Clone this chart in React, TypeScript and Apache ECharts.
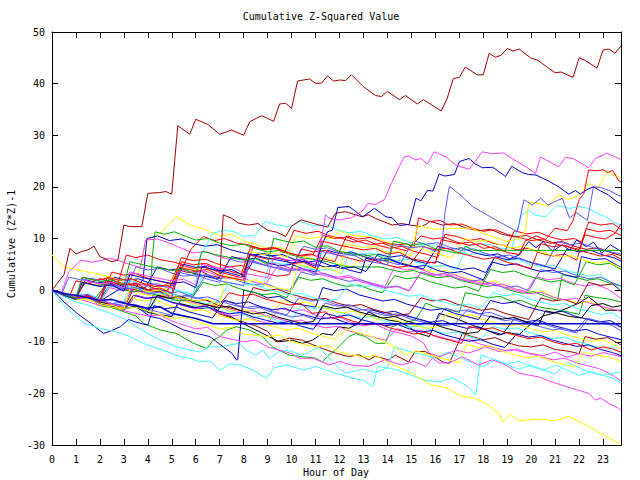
import React, { useEffect, useRef } from "react";
import * as echarts from "echarts";

type P = [number, number][];

const hourTicks = [0, 1, 2, 3, 4, 5, 6, 7, 8, 9, 10, 11, 12, 13, 14, 15, 16, 17, 18, 19, 20, 21, 22, 23];
const valueTicks = [-30, -20, -10, 0, 10, 20, 30, 40, 50];

const s1: P = [[0,0],[0.5,3],[0.75,8.1],[1,7],[1.25,7.5],[1.5,7.8],[1.75,8.5],[2,6.5],[2.5,5.5],[2.75,5.8],[3,12.6],[3.25,12.3],[3.75,12.3],[4,18.75],[4.5,18.9],[4.75,19.1],[5,18.6],[5.25,31.85],[5.75,30.2],[6,33.1],[6.5,32.1],[7,30.2],[7.5,31],[8,30],[8.25,32.6],[8.75,33.8],[9.25,32.7],[9.5,36.05],[9.75,36.2],[10,35.2],[10.25,40.5],[10.75,40.9],[11,40.06],[11.25,40.1],[11.5,41.5],[11.75,40.5],[12,40.7],[12.25,40.6],[12.5,41.7],[13,39.4],[13.5,37.7],[13.75,37.5],[14,38.5],[14.5,36.9],[14.75,37.7],[15.25,36.05],[15.5,36.9],[16.25,34.7],[16.5,37.2],[16.75,41],[17,41.2],[17.25,43.2],[17.75,41.7],[18,41.7],[18.25,45.9],[18.5,45.1],[18.75,45.5],[19,46.8],[19.25,46.3],[19.5,46.7],[20,44.9],[20.25,44.6],[21,42.1],[21.25,42.25],[21.75,41.2],[22,45],[22.25,44.5],[22.75,43],[23,46.5],[23.25,46.7],[23.5,45.9],[23.75,47.3]];
const s2: P = [[0,0],[0.5,-0.8],[1,-1.5],[1.25,2],[2,1.2],[2.5,1.5],[3,0.4],[3.25,3.5],[4,2.7],[5,1.8],[5.5,2.1],[6,1],[6.25,5],[7,4.2],[7.5,4.5],[8,3.3],[9,2.4],[9.25,6.5],[10,5.7],[10.5,6],[11,4.9],[11.25,10],[11.42,14.6],[11.58,13.9],[12,13.6],[12.5,14],[13,15.5],[13.18,16.8],[13.5,16.6],[13.87,17.5],[14.2,21],[14.5,24],[14.7,25.8],[14.9,26],[15.17,25.2],[15.4,25.5],[15.67,24.4],[15.95,26.8],[16.44,25.8],[16.86,24.2],[17.41,23.4],[17.96,26.8],[18.38,26.4],[18.86,26.6],[19.2,25.5],[19.77,23.9],[20.18,22.6],[20.39,25.8],[20.87,24.6],[21.15,23.9],[21.43,25.7],[21.75,25.5],[22.4,23.7],[22.68,25.5],[23.16,26.5],[23.65,25.5],[23.75,25.3]];
const s3: P = [[0,0],[0.5,-1],[1,-1.8],[1.25,1.5],[2,0.7],[2.5,1],[3,-0.2],[3.25,3],[4,2.2],[5,1.3],[5.5,1.6],[6,0.5],[6.25,4.5],[7,3.7],[7.5,4],[8,2.8],[8.25,7],[9,6.2],[10,5.3],[10.5,5.6],[11,4.6],[11.25,8.5],[11.5,11.3],[11.7,11.6],[11.93,16],[12.4,16.2],[12.97,14.2],[13.46,15.85],[13.94,14.2],[14.2,14],[14.5,12.5],[14.91,12.75],[15.19,17.8],[15.4,17.3],[15.67,19.3],[15.9,19.2],[16.16,22.5],[16.4,22.1],[16.8,22.4],[17,24.9],[17.41,25.5],[17.65,24.5],[17.96,23.7],[18.4,23.8],[18.93,22],[19.19,24],[19.63,22.75],[19.9,22.4],[20.2,22.3],[20.74,21.1],[21.15,20],[21.57,18.6],[21.85,19.3],[22.05,18.6],[22.33,19.5],[22.6,20],[22.9,19.2],[23.23,18.4],[23.65,16.9],[23.75,16.8]];
const s4: P = [[0,0],[0.5,-0.9],[1,-1.7],[1.5,-1.4],[2,-2.6],[2.25,1],[3,0.2],[3.5,0.5],[4,-0.7],[4.5,-0.4],[5,-1.5],[5.25,3.5],[6,2.7],[6.5,3],[7,1.8],[8,0.9],[8.25,5.5],[9,4.7],[10,3.8],[10.5,4.1],[11,3],[11.25,7.5],[12,6.7],[12.5,7],[13,5.8],[14,4.9],[14.25,9],[15,8.2],[15.5,8.5],[16,7.5],[16.27,8.2],[16.4,15],[16.58,20],[16.65,19.9],[17.1,18.2],[17.55,16.2],[18,15],[18.52,13.6],[19,12.4],[19.42,11.3],[19.7,17.5],[20.05,16.5],[20.4,17.8],[20.7,16.5],[21.3,17.8],[21.6,14],[21.9,15],[22.35,13.5],[22.6,20],[22.9,19.9],[23.3,19.2],[23.65,18.3],[23.75,18.2]];
const s5: P = [[0,0],[0.5,-1],[1,-1.9],[1.5,-1.6],[2,-2.8],[2.5,-3.3],[3,-3.7],[3.25,0.5],[4,-0.3],[4.5,0],[5,-1.2],[6,-2.1],[6.5,-1.8],[7,-2.9],[7.25,2.5],[8,1.7],[8.5,2],[9,0.8],[10,-0.1],[10.25,5],[11,4.2],[11.5,4.5],[12,3.3],[12.25,9],[13,8.2],[13.5,8.5],[14,7.3],[14.5,7.6],[15,6.6],[15.25,12.5],[16,11.8],[17,12],[17.5,12],[18,11],[18.5,10.2],[19,9.4],[19.5,10],[19.77,11.6],[19.9,17.1],[20.3,16.8],[20.7,16.3],[21.15,18.4],[21.57,17.5],[22,18.5],[22.4,20.7],[22.75,19.5],[23.16,22.9],[23.4,22.3],[23.65,22],[23.75,21.8]];
const s6: P = [[0,0],[0.5,-0.7],[1,-1.5],[1.5,-1.1],[2,-2.4],[2.25,1.8],[3,1],[3.5,1.3],[4,0.1],[4.5,0.4],[5,-0.6],[5.25,4.5],[6,3.7],[6.5,4],[7,2.8],[8,1.9],[8.25,6.8],[9,6],[9.5,6.3],[10,5.1],[10.5,5.4],[11,4.3],[11.25,9.5],[12,8.7],[13,7.8],[13.5,8.1],[14,7],[14.5,7.3],[15,6.1],[16,5.2],[16.25,9.8],[17,9],[17.5,9.3],[18,8.1],[18.5,8.4],[19,7.3],[19.5,6.9],[19.75,9.5],[20.2,10.5],[20.6,9.8],[21,12],[21.5,11.5],[21.75,13.5],[22,17.5],[22.2,18.7],[22.4,23.3],[22.7,23.1],[23,23.3],[23.2,22.8],[23.4,23.2],[23.65,21.2],[23.75,21]];
const s7: P = [[0,0],[0.5,-0.8],[1,-1.5],[1.5,-1.9],[2,-2.5],[3,-3.5],[3.5,-3.3],[4,-4],[5,-5.5],[5.5,-5.2],[6,-6],[7,-7.5],[7.5,-7.2],[8,-8.5],[9,-9],[9.5,-8.7],[10,-10],[11,-11],[11.5,-10.7],[12,-12],[13,-13],[13.5,-12.6],[14,-14],[15,-16],[15.75,-18.2],[16.5,-19],[17.13,-20.6],[17.6,-20.9],[18.1,-21.9],[18.66,-23.9],[18.8,-25.5],[19.14,-24.1],[19.5,-25.3],[20.3,-25],[21,-25.3],[21.57,-24.4],[22,-25.5],[22.68,-27.1],[23.2,-28.5],[23.65,-29.7],[23.75,-29.9]];
const s8: P = [[0,0],[0.5,-0.9],[1,-1.5],[2,-3],[2.5,-2.8],[3,-4],[4,-5],[4.5,-4.8],[5,-6],[6,-7.5],[6.5,-7.2],[7,-9],[8,-10],[8.5,-9.7],[9,-11],[10,-12.3],[10.34,-13.2],[10.9,-13.2],[11.58,-14.5],[12,-13.8],[12.5,-14.5],[13.2,-14.8],[13.9,-13.5],[14.6,-14.5],[15.1,-13.8],[15.6,-14.8],[15.88,-13.2],[16.16,-14.1],[16.6,-14.1],[17.13,-12.9],[17.8,-14.5],[18.38,-13.5],[18.93,-14.5],[19.49,-16.1],[20.3,-16.8],[21,-18],[21.7,-19],[22.4,-20],[22.68,-21.3],[22.9,-20.9],[23.23,-21.9],[23.65,-22.9],[23.75,-23.3]];
const s9: P = [[0,0],[0.5,-3],[1.32,-6.4],[2,-7.4],[2.7,-8.1],[3.27,-9],[3.82,-10.3],[4.23,-11],[4.79,-11.9],[5.35,-12.9],[5.76,-13.2],[6.18,-13.9],[6.59,-13.7],[7,-15.5],[7.43,-14.3],[7.84,-14.5],[8.4,-15.5],[8.95,-17.1],[9.3,-15],[9.8,-14.5],[10.5,-15.5],[11,-14.8],[11.8,-16],[12.5,-17],[13,-17.5],[13.39,-18.7],[13.6,-14.8],[14.3,-15.3],[15,-16.5],[15.6,-17.5],[16.2,-17.8],[16.7,-17],[17.3,-18.5],[17.69,-20.3],[17.9,-12.6],[18.5,-13.5],[19,-14.3],[19.5,-13.8],[20,-14.8],[20.5,-15.5],[21,-14.5],[21.5,-15.5],[22,-16.5],[22.5,-15.8],[23,-16.5],[23.75,-15.8]];
const s11: P = [[0,0],[0.5,-0.7],[1,-1],[2,-2],[2.5,-1.8],[3,-2.5],[4,-3.5],[4.5,-3.2],[5,-4.5],[6,-5.5],[6.72,-6.5],[23.75,-6.5]];
const s12: P = [[0,0],[0.5,-0.8],[1,-1.6],[1.25,2.5],[2,1.7],[2.5,2],[3,0.8],[3.25,5.5],[4,4.7],[5,3.8],[5.5,4.1],[6,3],[6.25,7.5],[7,6.7],[8,5.8],[8.5,6.1],[9,5],[9.25,10],[10,9.2],[10.5,9.5],[11,8.3],[11.5,8.6],[12,7.5],[13,6.6],[13.5,6.9],[14,5.7],[14.25,9.5],[15,8.7],[15.5,9],[16,8],[17,7.1],[17.25,8.5],[17.6,7.7],[23.75,7.7]];
const a1: P = [[0,0],[0.5,-0.6],[0.75,-1],[1,1.8],[1.5,1.3],[2,2.2],[2.5,1.6],[2.75,1.2],[3.1,6.8],[3.5,6.3],[4,6.8],[4.5,5.9],[5,5.5],[5.5,4.9],[5.8,7.9],[6.3,10.4],[6.8,9.6],[7.2,10],[7.7,9.1],[8.2,8.8],[8.7,7.9],[9.2,8.3],[9.7,7.2],[10.1,11.6],[10.6,11],[11.1,11.4],[11.6,10.5],[12.1,10],[12.6,9.3],[13.1,9.7],[13.6,8.7],[14.1,8.1],[14.6,8.5],[15.1,7.5],[15.6,7],[16.1,6.3],[16.4,10.8],[16.9,10.4],[17.4,9.6],[17.9,10],[18.4,9.1],[18.9,8.6],[19.4,7.8],[19.9,8.1],[20.4,7.2],[20.9,6.6],[21.4,7],[21.9,5.8],[22.3,11.9],[22.8,11.3],[23.3,11.6],[23.75,10.6]];
const a2: P = [[0,0],[0.4,-0.5],[0.9,-1.2],[1.3,-0.8],[1.8,-1.6],[2.3,1.4],[2.8,0.9],[3.3,1.2],[3.8,0.3],[4.1,0],[4.2,7],[4.3,11.3],[4.7,10.8],[5.1,11.3],[5.6,10.4],[6,9.7],[6.5,10],[7,9.1],[7.5,8.6],[8,8.9],[8.5,8],[9,7.4],[9.5,7.7],[10,6.8],[10.5,6.2],[11,5.9],[11.5,5.5],[12,4.8],[12.4,4.5],[13.7,4.5],[14.1,4],[14.6,3.5],[15.1,3.8],[15.6,3],[16.1,2.4],[16.6,2.7],[17.1,1.8],[17.6,1.3],[18.1,0.7],[18.6,1],[19.1,0],[19.6,-0.6],[20.1,-0.3],[20.6,-1.2],[21.1,-2],[21.3,3],[21.8,2.6],[22.3,1.9],[22.8,2.2],[23.3,1.3],[23.75,0.8]];
const a3: P = [[0,0],[0.5,-0.7],[1,-1.5],[1.5,-1.1],[2,-2.2],[2.4,-1],[2.9,0.4],[3.4,0.1],[3.8,2],[3.96,10],[4.4,10.5],[4.9,9.6],[5.4,9.9],[5.9,9],[6.4,8.5],[6.9,8.8],[7.4,7.9],[7.9,7.3],[8.4,6.8],[8.9,7.1],[9.4,6.2],[9.9,5.7],[10.4,6],[10.9,5.1],[11.4,4.5],[11.9,4.8],[12.4,3.9],[12.9,3.3],[13.1,6.2],[13.6,5.6],[14.1,5.9],[14.6,5],[15.1,4.5],[15.6,4.8],[16.1,3.8],[16.6,3.3],[17.1,3.6],[17.6,2.7],[18,2],[18.4,5.4],[18.9,4.8],[19.4,5.1],[19.9,4.2],[20.4,3.6],[20.9,3.9],[21.4,3],[21.9,2.4],[22.1,6.5],[22.6,5.9],[23.1,6.1],[23.75,4.4]];
const a4: P = [[0,0],[0.4,-0.4],[0.7,3.5],[1.2,5.8],[1.7,5.4],[2.1,5.8],[2.4,6.2],[2.8,5.7],[3.3,4.9],[3.7,4.4],[3.9,9.7],[4.4,9.9],[4.9,9.1],[5.4,8.1],[5.9,7.2],[6.4,7.5],[6.9,6.6],[7.4,6],[7.9,6.3],[8.4,5.5],[8.9,4.9],[9.4,5.2],[9.9,4.3],[10.4,3.7],[10.9,4],[11.4,3.1],[11.9,2.5],[12.4,2.8],[12.9,1.9],[13.4,1.3],[13.9,0.7],[14.3,4.5],[14.8,3.9],[15.3,4.2],[15.8,3.3],[16.3,2.7],[16.8,3],[17.3,2.1],[17.8,1.5],[18.3,0.9],[18.8,1.2],[19.3,0.3],[19.8,-0.3],[20.2,2.6],[20.7,2],[21.2,2.3],[21.7,1.4],[22.2,0.8],[22.7,1.1],[23.2,0.2],[23.75,-1.6]];
const a5: P = [[0,0],[0.5,-0.8],[1,-1.4],[1.5,-1],[2,-2],[2.5,-2.6],[3,-2.2],[3.4,1.5],[3.9,1],[4.4,1.3],[4.9,0.3],[5.4,-0.2],[5.9,-0.8],[6.2,6.5],[6.7,11],[7.2,11.6],[7.6,11.3],[8,10.4],[8.5,10.7],[8.9,13.3],[9.4,12.6],[9.9,12.3],[10.4,13.3],[10.9,12.4],[11.4,12.7],[11.9,11.7],[12.4,11.1],[12.9,11.4],[13.4,10.5],[13.9,9.9],[14.4,10.2],[14.9,9.3],[15.4,8.7],[15.9,9],[16.4,8.1],[16.9,7.5],[17.4,6.9],[17.9,7.2],[18.4,6.3],[18.9,5.7],[19.4,6],[19.9,5.1],[20.4,4.5],[20.9,4.8],[21.4,3.9],[21.9,3.3],[22.4,2.7],[22.9,3],[23.4,1.2],[23.75,0.2]];
const a6: P = [[0,0],[0.5,-0.5],[1,-1.1],[1.5,-0.7],[2,-1.6],[2.4,2],[2.9,1.4],[3.4,1.7],[3.9,0.8],[4.4,0.2],[4.9,0.5],[5.4,-0.4],[5.9,-1],[6.3,3],[6.8,2.4],[7.3,2.7],[7.8,1.8],[8.3,1.2],[8.8,0.6],[9.1,5.5],[9.6,5],[10.1,5.3],[10.6,4.4],[11.1,3.8],[11.6,4.1],[12.1,3.2],[12.4,7.5],[12.9,6.9],[13.4,7.2],[13.9,6.3],[14.4,5.7],[14.9,6],[15.4,5.1],[15.9,4.5],[16.4,4.8],[16.9,3.9],[17.3,8.5],[17.8,9],[18.3,8.8],[18.8,8],[19.2,8.3],[19.4,11.3],[19.6,14.5],[19.9,15.5],[20.2,14.5],[20.6,14.2],[21.1,16.5],[21.6,15.8],[22,16.2],[22.4,15.8],[22.8,14.8],[23.1,14.2],[23.5,13],[23.75,12.6]];
const a7: P = [[0,0],[0.5,-0.6],[1,-1.3],[1.5,-0.9],[1.9,-1.8],[2.3,1.5],[2.8,0.9],[3.3,1.2],[3.8,0.3],[4.3,-0.3],[4.8,0],[5.2,4],[5.7,3.4],[6.2,3.7],[6.6,2.8],[7,2.4],[7.1,11],[7.15,14.6],[7.5,13.9],[7.77,13],[8.2,12.6],[8.6,12.9],[9,11.6],[9.4,11.2],[9.75,10.4],[10,12.4],[10.4,13.6],[11,12.8],[11.5,12.2],[11.83,14.9],[12.25,15.2],[12.94,14.2],[13.2,14.6],[13.5,13.9],[14.2,12.6],[14.6,12.9],[14.95,12.6],[15.44,12.3],[15.8,13.3],[16.3,12.6],[16.8,12.9],[17.3,12],[17.8,11.5],[18.3,11.8],[18.8,10.8],[19.3,10.3],[19.8,10.6],[20.3,9.7],[20.8,9.1],[21.3,9.4],[21.8,8.5],[22.3,7.9],[22.8,8.2],[23.3,7.3],[23.75,6.7]];
const a8: P = [[0,0],[0.5,-0.9],[1,-1.6],[1.3,2.5],[1.8,1.9],[2.3,2.3],[2.8,1.5],[3.3,0.9],[3.8,1.2],[4.3,0.3],[4.8,-0.3],[5.4,4.8],[5.9,4.2],[6.4,4.5],[6.9,3.6],[7.4,3],[7.9,2.4],[8.4,8.4],[8.9,7.8],[9.4,8.1],[9.9,7.2],[10.4,6.6],[10.9,6.9],[11.3,10.6],[11.8,10],[12.3,10.3],[12.8,9.4],[13.3,8.8],[13.8,9.1],[14.3,8.2],[14.8,7.6],[15.4,10.5],[15.9,9.9],[16.4,10.2],[16.9,9.3],[17.4,8.7],[17.9,9],[18.4,8.1],[18.9,7.5],[19.3,11.5],[19.8,10.9],[20.3,11.2],[20.8,10.3],[21.3,9.7],[21.8,10],[22.1,9.3],[22.4,13.2],[22.9,12.6],[23.4,12.9],[23.75,11.8]];
const a9: P = [[0,0],[0.5,-1.1],[1,-1.8],[1.5,-1.4],[2,-2.4],[2.5,-3],[3,-2.6],[3.4,0.5],[3.9,0],[4.4,0.3],[4.9,-0.6],[5.4,-1.2],[5.9,-0.9],[6.4,2.8],[6.9,2.2],[7.4,2.5],[7.9,1.6],[8.4,1],[8.9,1.3],[9.4,0.4],[9.9,-0.2],[10.4,3.5],[10.9,2.9],[11.4,3.2],[11.9,2.3],[12.4,1.7],[12.9,2],[13.4,1.1],[13.9,0.5],[14.4,0.8],[14.9,-0.1],[15.4,3.5],[15.9,2.9],[16.4,3.2],[16.9,2.3],[17.4,1.7],[17.9,2],[18.4,1.1],[18.9,0.5],[19.4,0.8],[19.9,-0.1],[20.4,4],[20.9,3.4],[21.4,3.7],[21.9,2.8],[22.4,2.2],[22.9,2.5],[23.4,1.4],[23.75,0.8]];
const a10: P = [[0,0],[0.5,-1],[1,-1.7],[1.4,2],[1.9,1.4],[2.4,1.7],[2.9,0.8],[3.4,0.2],[3.9,0.5],[4.4,4.5],[4.9,3.9],[5.4,4.2],[5.9,3.3],[6.4,2.7],[6.9,2.1],[7.5,6.5],[8,5.9],[8.5,6.2],[9,5.3],[9.5,4.7],[10,5],[10.5,4.1],[11,3.5],[11.5,7.7],[12,7.1],[12.5,7.4],[13,6.5],[13.5,5.9],[14,6.2],[14.5,5.3],[15,4.7],[15.5,4.1],[16.1,8.5],[16.6,7.9],[17.1,8.2],[17.6,7.3],[18.1,6.7],[18.6,7],[19.1,6.1],[19.5,6.8],[19.9,9.4],[20.2,8.2],[20.5,9.4],[20.9,7.5],[21.3,8.8],[21.6,7.7],[21.9,9.7],[22.3,8.4],[22.6,9.3],[22.95,7.1],[23.3,8.8],[23.75,7.5]];
const a11: P = [[0,0],[0.5,-0.7],[1,-1.4],[1.5,-1],[2,-2],[2.6,2.5],[3.1,1.9],[3.6,2.2],[4.1,1.3],[4.6,0.7],[5.1,1],[5.5,5],[6,4.4],[6.5,4.7],[7,3.8],[7.5,3.2],[8,2.6],[8.6,7.2],[9.1,6.6],[9.6,6.9],[10.1,6],[10.6,5.4],[11.1,5.7],[11.6,4.8],[12.1,4.2],[12.6,4.5],[13.1,3.6],[13.6,7],[14.1,6.4],[14.6,6.7],[15.1,5.8],[15.6,5.2],[16.1,5.5],[16.6,4.6],[17.1,4],[17.6,4.3],[18.1,3.4],[18.5,6.5],[19,5.9],[19.5,6.2],[20,5.3],[20.5,4.7],[21,4.1],[21.5,8],[22,7.4],[22.5,7.7],[23,6.8],[23.5,6.2],[23.75,5.6]];
const a12: P = [[0,0],[0.5,-0.8],[1,-1.6],[1.5,-1.2],[2,-2.5],[2.5,-3.1],[3,-4],[3.5,-1],[4,-1.6],[4.5,-1.3],[5,-2.4],[5.5,-3],[6,-3.6],[6.5,-3.3],[7,-4.6],[7.5,-5.4],[8,-6.2],[8.5,-6.9],[9,-8],[9.34,-10],[9.9,-9.3],[10.45,-9.7],[10.9,-10.6],[11.28,-11.3],[11.83,-12.2],[12.39,-12.9],[12.8,-12.5],[13.22,-13.5],[13.5,-12.8],[14.05,-13.5],[14.33,-12.6],[14.88,-13.9],[15.16,-11.9],[15.58,-11.9],[16,-13],[16.3,-13.9],[16.58,-14.2],[17.13,-8.4],[17.55,-9],[18,-9.6],[18.5,-9.2],[19,-10.2],[19.5,-10.8],[20,-11],[20.5,-10.6],[21,-11.5],[21.5,-11.8],[22,-12.3],[22.25,-9],[22.7,-9.5],[23.2,-9.2],[23.75,-10.6]];
const a13: P = [[0,0],[0.5,-0.8],[1,-1.5],[1.5,-1.2],[2,-2.6],[2.5,-3.1],[3,-3.5],[3.5,-3.3],[4,-4.3],[4.5,-4.8],[5,-5.1],[5.25,-2.5],[5.7,-3],[6.2,-3.6],[6.7,-3.3],[7.1,-4.5],[7.5,-5.2],[7.95,-6.4],[8.5,-7.7],[9.06,-9],[9.48,-10],[10.03,-9.7],[10.45,-10.3],[10.87,-9.7],[11.28,-8.4],[11.7,-8.7],[11.97,-7.1],[12.39,-7.4],[12.8,-6.4],[13.22,-4.2],[13.64,-5.2],[14.05,-5.8],[14.47,-6.1],[14.88,-7.1],[15.3,-8.4],[15.75,-9],[16.16,-4.5],[16.86,-5.5],[17.55,-6.8],[18.1,-7.7],[18.66,-8.7],[19,-8.2],[19.5,-8.6],[20,-6.5],[20.5,-5],[21,-4.4],[21.5,-3.5],[22,-2.5],[22.4,-1.3],[22.7,-2.4],[23.1,-3.9],[23.75,-3.9]];
const a14: P = [[0,0],[0.5,-1],[1,-1.8],[1.5,-1.5],[2,-3],[2.5,-3.4],[3,-4.2],[3.5,-5],[3.82,-6.4],[4.5,-7.7],[5.2,-8.4],[5.9,-10.3],[6.45,-11.3],[6.73,-9.7],[7,-9],[7.3,-7.7],[7.7,-7.1],[8.23,-7.7],[8.78,-9],[9.2,-11],[9.9,-12.6],[10.45,-12.9],[11,-13.2],[11.28,-13.9],[11.56,-12.6],[11.83,-11.6],[12.39,-9],[12.67,-8.4],[13.08,-9],[13.5,-10.3],[13.91,-10.3],[14.19,-7.1],[14.61,-6.4],[15.16,-5.8],[15.44,-3.8],[15.6,-2.5],[16,-3.3],[16.5,-3.8],[17,-4.3],[17.25,-0.5],[17.7,-0.9],[18.2,-1.5],[18.7,-1.2],[19.2,-2.2],[19.6,-2],[20.1,-3],[20.6,-3.5],[21.1,-3.8],[21.6,-4.3],[22,-4.7],[22.25,-1],[22.7,-1.4],[23.2,-1.7],[23.75,-2.3]];
const a15: P = [[0,0],[0.5,-1.2],[1,-2.3],[1.5,-2.9],[2,-3.8],[2.5,-4.6],[3,-5.5],[3.5,-7],[4.1,-8.7],[4.6,-9.8],[5.2,-11],[5.76,-11.6],[6.18,-12],[6.59,-11],[7,-11],[7.43,-10.6],[7.84,-10.3],[8.1,-11.6],[8.5,-12.6],[8.8,-11.6],[9.06,-13.2],[9.6,-11.6],[10,-11.9],[10.45,-12.6],[11.14,-11],[11.83,-14.5],[12.25,-16.1],[13,-15.3],[13.5,-16],[14,-15],[14.3,-11],[15,-12],[15.5,-12.5],[16,-13.2],[16.5,-12],[17,-13],[17.5,-14],[18,-14.8],[18.5,-13.5],[19,-14.5],[19.5,-15.3],[20,-14.5],[20.5,-15.5],[21,-16.2],[21.5,-14],[22,-15],[22.5,-16],[23,-16.5],[23.5,-17.2],[23.75,-18]];
const a16: P = [[0,0],[0.5,-0.8],[1,-1.6],[1.5,-1.2],[2,-2.5],[2.5,-3.1],[3,-3.7],[3.5,-1],[4,-1.6],[4.5,-1.3],[5,-2.4],[5.5,-3],[6,-3.6],[6.5,-3.3],[7,-4.4],[7.5,-5],[8,-4.7],[8.5,-5.8],[9,-6.4],[9.5,-3.5],[10,-4.1],[10.5,-3.8],[11,-4.9],[11.5,-5.5],[12,-5.2],[12.5,-6.3],[13,-6.9],[13.5,-6.6],[14,-7.7],[14.5,-8.3],[15,-8.9],[15.5,-10.2],[15.75,-12.2],[16.2,-12.9],[16.86,-11.6],[17.4,-12.2],[18.1,-11],[18.66,-11.9],[19.3,-11.6],[19.9,-12.2],[20.5,-12.7],[21,-12],[21.5,-13],[22,-12.3],[22.5,-12.8],[23,-12.1],[23.75,-12.9]];
const a17: P = [[0,0],[0.5,-0.8],[1,-1.5],[1.5,-1.2],[2,-2.4],[2.4,0.5],[2.9,-0.1],[3.4,0.2],[3.9,-0.7],[4.4,-1.3],[4.9,-1],[5.4,-1.9],[5.9,-2.5],[6.4,-3.1],[6.9,-2.8],[7.4,-3.7],[7.9,-4.3],[8.4,-4],[8.9,-4.9],[9.4,-5.5],[9.9,-6.1],[10.4,-5.8],[10.9,-6.7],[11.4,-7.3],[11.9,-7],[12.4,-7.9],[12.9,-8.5],[13.4,-9.1],[13.9,-9.7],[14.4,-7.5],[14.9,-8.1],[15.4,-7.8],[15.9,-8.7],[16.4,-9.3],[16.9,-9.9],[17.4,-9.6],[17.9,-10.5],[18.4,-11.1],[18.9,-11.7],[19.4,-11.4],[19.9,-12.3],[20.4,-12.9],[20.9,-13.5],[21.4,-13.2],[21.9,-14.1],[22.4,-14.7],[22.9,-15.3],[23.4,-16.5],[23.75,-17.6]];
const a18: P = [[0,0],[0.5,-0.9],[1,-1.7],[1.5,-1.3],[2,-2.4],[2.5,-3],[3,-3.6],[3.5,-3.3],[4,-4.2],[4.4,-1.5],[4.9,-2.1],[5.4,-1.8],[5.9,-2.9],[6.4,-3.5],[6.9,-3.2],[7.4,-4.1],[7.9,-4.7],[8.4,-5.3],[8.9,-5],[9.4,-5.9],[9.9,-6.5],[10.4,-3],[10.9,-3.6],[11.4,-3.3],[11.9,-4.2],[12.4,-4.8],[12.9,-5.4],[13.4,-5.1],[13.9,-6],[14.4,-6.6],[14.9,-7.2],[15.4,-6.9],[15.9,-7.8],[16.4,-8.4],[16.9,-8.1],[17.4,-9],[17.9,-9.6],[18.4,-7],[18.9,-7.6],[19.4,-7.3],[19.9,-8.2],[20.4,-8.8],[20.9,-9.4],[21.4,-9.1],[21.9,-10],[22.4,-10.6],[22.9,-11.2],[23.4,-11],[23.75,-12.3]];
const a19: P = [[0,0],[0.5,-0.7],[1,-1.5],[1.5,-1.1],[2,-2.2],[2.5,-2.8],[3,-3.3],[3.6,-0.5],[4.1,-1.1],[4.6,-0.8],[5.1,-1.7],[5.6,-2.3],[6.1,-2.9],[6.6,-2.6],[7.1,-3.5],[7.6,-4.1],[8.1,-3.8],[8.6,-4.7],[9.1,-5.3],[9.6,-2],[10.1,-2.6],[10.6,-2.3],[11.1,-3.2],[11.6,-3.8],[12.1,-4.4],[12.6,-4.1],[13.1,-5],[13.6,-5.6],[14.1,-5.3],[14.6,-6.2],[15.1,-6.8],[15.6,-7.4],[16.1,-7.1],[16.5,-4.5],[17,-5.1],[17.5,-4.8],[18,-5.7],[18.5,-6.3],[19,-6.9],[19.5,-6.6],[20,-7.5],[20.5,-8.1],[21,-7.8],[21.5,-8.7],[22,-9.3],[22.5,-9.9],[23,-9.6],[23.5,-10.7],[23.75,-11.3]];
const a20: P = [[0,0],[0.5,-0.9],[1,-1.8],[1.5,-1.5],[2,-2.6],[2.5,-3.2],[2.9,-3.8],[3.3,-1.5],[3.8,-2.1],[4.3,-1.8],[4.8,-2.9],[5.3,-3.5],[5.8,-4.1],[6.3,-3.8],[6.8,-4.7],[7.3,-5.3],[7.8,-5.9],[8.3,-5.6],[8.8,-6.5],[9.3,-7.1],[9.8,-7.7],[10.3,-7.4],[10.8,-8.3],[11.3,-8.9],[11.8,-9.5],[12.3,-7.5],[12.8,-8.3],[13.3,-8.9],[13.8,-9.9],[14.3,-11],[14.75,-12.5],[15.2,-11.8],[15.6,-12.3],[16.1,-13],[16.6,-13.6],[17,-14],[17.3,-10.5],[17.8,-11.1],[18.3,-10.8],[18.8,-11.9],[19.3,-12.5],[19.8,-13.1],[20.3,-12.8],[20.8,-13.7],[21.3,-14.3],[21.8,-14.9],[22.2,-12],[22.7,-12.6],[23.2,-12.9],[23.75,-13.8]];
const a21: P = [[0,0],[0.5,-0.6],[1,-1.3],[1.5,-0.9],[2,-2],[2.5,-2.6],[3,-2.3],[3.5,-3.2],[4,-3.8],[4.3,0],[4.8,-0.6],[5.3,-0.3],[5.8,-1.2],[6.3,-1.8],[6.8,-2.4],[7.3,-2.1],[7.8,-3],[8.3,-3.6],[8.8,-3.3],[9.3,-4.2],[9.8,-4.8],[10.3,-1.5],[10.8,-2.1],[11.3,-1.8],[11.8,-2.7],[12.3,-3.3],[12.8,-3.9],[13.3,-3.6],[13.8,-4.5],[14.3,-5.1],[14.8,-4.8],[15.3,-5.7],[15.8,-6.3],[16.3,-6.9],[16.8,-6.6],[17.3,-4],[17.8,-4.6],[18.3,-4.3],[18.8,-5.2],[19.3,-5.8],[19.8,-6.4],[20.3,-6.1],[20.8,-7],[21.3,-7.6],[21.8,-8.2],[22.3,-5.5],[22.8,-6.1],[23.3,-6.4],[23.75,-7.2]];
const a22: P = [[0,0],[0.25,-1],[0.5,-2.3],[1.05,-4.5],[1.6,-6.4],[2.15,-8.4],[2.4,-8],[2.85,-7.1],[3.2,-5.7],[3.5,-6.2],[4,-6.8],[4.25,-3],[4.7,-3.6],[5.2,-3.3],[5.7,-4.2],[6.2,-4.8],[6.7,-5.4],[7.2,-2],[7.7,-2.6],[8.2,-2.3],[8.7,-3.2],[9.2,-3.8],[9.7,-3.5],[10.2,-4.4],[10.7,-5],[11.2,-5.6],[11.7,-5.3],[12.2,-6.2],[12.7,-6.8],[13.3,-3.8],[13.8,-4.4],[14.3,-4.1],[14.8,-5],[15.3,-5.6],[15.8,-6.2],[16.3,-5.9],[16.8,-6.8],[17.3,-7.4],[17.8,-7.1],[18.3,-8],[18.8,-8.6],[19.3,-5.5],[19.8,-6.1],[20.3,-5.8],[20.8,-6.7],[21.3,-7.3],[21.8,-7.9],[22.3,-7.6],[22.8,-8.5],[23.3,-9.1],[23.75,-9.6]];
const a23: P = [[0,0],[0.5,-0.9],[1,-1.8],[1.5,-1.5],[2,-2.6],[2.5,-3.1],[3,-3.5],[3.5,-3.2],[4.1,-5.1],[4.5,-5.5],[4.93,-6.4],[5.48,-7.7],[6.04,-8.4],[6.59,-9],[7.15,-11],[7.5,-12.2],[7.7,-13.5],[7.75,-13.5],[8,0],[8.5,-0.5],[9,-1.5],[9.5,-1.2],[10,-2.4],[10.5,-2.9],[11,-3.3],[11.3,0.5],[11.8,-0.1],[12.3,0.2],[12.8,-0.9],[13.3,-1.5],[13.8,-2.1],[14.3,-1.8],[14.8,-2.7],[15.3,-3.3],[15.8,-3.9],[16.3,-3.6],[16.8,-4.5],[17.3,-5.1],[17.8,-5.7],[18.3,-2],[18.8,-2.6],[19.3,-2.3],[19.8,-3.2],[20.3,-3.8],[20.8,-4.4],[21.3,-4.1],[21.8,-5],[22.3,-5.6],[22.8,-6.2],[23.3,-5.9],[23.75,-7.1]];
const a24: P = [[0,0],[0.5,-1],[1,-1.8],[1.5,-1.4],[2,-2.6],[2.5,-3.2],[3,-3.8],[3.4,-1],[3.9,-1.6],[4.4,-1.3],[4.9,-2.2],[5.4,-2.8],[5.9,-3.4],[6.4,-3.1],[6.9,-4],[7.4,-4.6],[7.9,-4.3],[8.4,-5.2],[8.9,-5.8],[9.4,-6.4],[9.9,-6.1],[10.4,-7],[10.9,-7.6],[11.4,-4.5],[11.9,-5.1],[12.4,-4.8],[12.9,-5.7],[13.4,-6.3],[13.9,-6.9],[14.4,-6.6],[14.9,-7.5],[15.4,-8.1],[15.9,-7.8],[16.4,-8.7],[16.9,-9.3],[17.4,-9.9],[17.9,-9.6],[18.4,-10.5],[18.9,-11.1],[19.4,-8.5],[19.9,-9.1],[20.4,-8.8],[20.9,-9.7],[21.4,-10.3],[21.9,-10.9],[22.4,-10.6],[22.9,-11.5],[23.4,-12.1],[23.75,-12.7]];
const a25: P = [[0,0],[0.5,-0.6],[1,-1.3],[1.4,1.5],[1.9,0.9],[2.4,1.2],[2.9,0.3],[3.4,-0.3],[3.9,0],[4.4,-0.9],[4.9,-1.5],[5.4,-1.2],[5.9,-2.1],[6.4,-2.7],[6.9,-3.3],[7.4,-0.5],[7.9,-1.1],[8.4,-0.8],[8.9,-1.7],[9.4,-2.3],[9.9,-2.9],[10.4,-2.6],[10.87,-4.5],[11.42,-4.2],[11.7,-5.5],[12.1,-5.2],[12.6,-6.1],[13.1,-6.7],[13.6,-6.4],[14.1,-7.3],[14.6,-7.9],[15.1,-8.5],[15.6,-8.2],[16.1,-9.1],[16.6,-9.7],[17.1,-10.3],[17.4,-7],[17.9,-7.6],[18.4,-7.3],[18.9,-8.2],[19.4,-8.8],[19.9,-9.4],[20.4,-9.1],[20.9,-10],[21.4,-10.6],[21.9,-10.3],[22.5,-11.6],[23,-11],[23.4,-11.4],[23.75,-12]];
const a26: P = [[0,0],[0.5,-0.7],[1,-1.4],[1.5,-1],[2,-2.1],[2.5,3.5],[3,2.9],[3.5,3.2],[4,2.3],[4.5,1.7],[5,1.1],[5.4,6.3],[5.9,5.7],[6.4,6],[6.9,5.1],[7.4,4.5],[7.9,4.8],[8.4,3.9],[8.9,3.3],[9.4,2.7],[9.9,3],[10.4,8],[10.9,7.4],[11.4,7.7],[11.9,6.8],[12.4,6.2],[12.9,5.6],[13.4,5.9],[13.9,5],[14.4,4.4],[14.9,4.7],[15.5,8.4],[16,7.8],[16.5,8.1],[17,7.2],[17.5,6.6],[18,6],[18.5,6.3],[19,5.4],[19.5,4.8],[20,4.2],[20.4,9],[20.9,8.4],[21.4,8.7],[21.9,7.8],[22.4,7.2],[22.9,6.6],[23.4,6.9],[23.75,6]];
const a27: P = [[0,0],[0.5,-0.8],[1,-1.6],[1.5,-1.2],[2,-2.3],[2.5,-2.9],[3,-3.5],[3.4,0.2],[3.9,-0.4],[4.4,-0.1],[4.9,-1],[5.4,-1.6],[5.9,-2.2],[6.4,-1.9],[6.9,-2.8],[7.4,-3.4],[7.9,-4],[8.4,0.5],[8.9,-0.1],[9.4,0.2],[9.9,-0.7],[10.4,-1.3],[10.9,-1.9],[11.4,-1.6],[11.9,-2.5],[12.4,-3.1],[12.9,-2.8],[13.4,-3.7],[13.9,-4.3],[14.4,-4.9],[14.9,-4.6],[15.4,-1.5],[15.9,-2.1],[16.4,-1.8],[16.9,-2.7],[17.4,-3.3],[17.9,-3.9],[18.4,-3.6],[18.9,-4.5],[19.4,-5.1],[19.9,-5.7],[20.4,-1.5],[20.9,-2.1],[21.4,-1.8],[21.9,-2.7],[22.4,1.5],[22.9,0.9],[23.4,1.2],[23.75,-0.2]];
const a28: P = [[0,0],[0.5,-0.7],[1,-1.4],[1.3,1.5],[1.8,0.9],[2.3,1.2],[2.8,0.3],[3.3,-0.3],[3.8,0],[4.3,-0.9],[4.8,-1.5],[5.3,-2.1],[5.8,-1.8],[6.3,1.5],[6.8,0.9],[7.3,1.2],[7.8,0.3],[8.3,-0.3],[8.8,-0.9],[9.3,-0.6],[9.8,-1.5],[10.3,2.5],[10.8,1.9],[11.3,2.2],[11.8,1.3],[12.3,0.7],[12.8,1],[13.3,0.1],[13.8,-0.5],[14.3,2.8],[14.8,2.2],[15.3,2.5],[15.8,1.6],[16.3,1],[16.8,0.4],[17.3,0.7],[17.8,-0.2],[18.3,4],[18.8,3.4],[19.3,3.7],[19.8,2.8],[20.3,2.2],[20.8,1.6],[21.3,1.9],[21.8,1],[22.3,5.5],[22.8,4.9],[23.3,5.2],[23.75,4]];
const a29: P = [[0,0],[0.5,-0.9],[1,-1.7],[1.5,-1.3],[2,-2.4],[2.4,1],[2.9,0.4],[3.4,0.7],[3.9,-0.2],[4.4,-0.8],[4.9,-0.5],[5.4,-1.4],[5.9,-2],[6.4,-2.6],[6.9,-2.3],[7.4,1.5],[7.9,0.9],[8.4,1.2],[8.9,0.3],[9.4,-0.3],[9.9,-0.9],[10.4,-0.6],[10.9,-1.5],[11.4,-2.1],[11.9,-1.8],[12.4,1.2],[12.9,0.6],[13.4,0.9],[13.9,0],[14.4,-0.6],[14.9,-1.2],[15.4,-0.9],[15.9,-1.8],[16.4,-2.4],[16.9,-3],[17.4,-2.7],[17.9,-3.6],[18.4,-0.5],[18.9,-1.1],[19.4,-0.8],[19.9,-1.7],[20.4,-2.3],[20.9,-2.9],[21.4,-2.6],[21.9,-3.5],[22.4,-4.1],[22.9,-4.7],[23.4,-4.4],[23.75,-5.6]];
const a30: P = [[0,0],[0.5,-0.7],[1,-1.4],[1.5,-1.1],[2,-2.2],[2.3,2.5],[2.8,1.9],[3.3,2.2],[3.8,1.3],[4.3,0.7],[4.8,0.1],[5.3,4.5],[5.8,3.9],[6.3,4.2],[6.8,3.3],[7.3,2.7],[7.8,2.1],[8.3,7.5],[8.8,6.9],[9.3,7.2],[9.8,6.3],[10.2,10.5],[10.7,10],[11.2,10.3],[11.7,10],[12,11.5],[12.25,11],[12.7,10.5],[13.22,10.3],[13.7,9.8],[14.2,9],[14.5,9.3],[14.9,8.1],[15.3,8.4],[15.7,7.6],[16.2,6.9],[16.7,6.3],[17.2,10],[17.7,9.4],[18.2,9.7],[18.7,8.8],[19.2,8.2],[19.7,8.5],[20.2,7.6],[20.7,7],[21.2,6.4],[21.7,6.7],[22.2,5.8],[22.7,5.2],[23.2,5.5],[23.75,4.3]];
const a31: P = [[0,0],[0.5,-0.6],[1,-1.2],[1.5,-0.9],[2,-2],[2.5,-2.6],[3,-3.1],[3.5,-2.8],[4,-3.7],[4.5,-4.3],[5,-4.9],[5.5,-1],[6,-1.6],[6.5,-1.3],[7,-2.2],[7.5,-2.8],[8,-3.4],[8.5,-3.1],[9,-4],[9.5,-4.6],[10,-5.2],[10.5,-4.9],[11,-5.8],[11.4,-2.5],[11.9,-3.1],[12.4,-2.8],[12.9,-3.7],[13.4,-4.3],[13.9,-4.9],[14.4,-4.6],[14.9,-5.5],[15.4,-6.1],[15.9,-6.7],[16.4,-3.5],[16.9,-4.1],[17.4,-3.8],[17.9,-4.7],[18.4,-5.3],[18.9,-5.9],[19.4,-5.6],[19.9,-6.5],[20.4,-7.1],[20.9,-7.7],[21.4,-7.4],[21.9,-8.3],[22.4,-5.5],[22.9,-6.1],[23.4,-6.9],[23.75,-7.9]];
const a32: P = [[0,0],[0.4,-0.8],[0.7,2.5],[1.2,2],[1.7,2.3],[2.2,1.4],[2.7,0.8],[3.1,0.2],[3.5,4.5],[4,3.9],[4.5,4.2],[5,3.3],[5.5,2.7],[6,3],[6.5,2.1],[7,1.5],[7.4,6],[7.9,5.4],[8.4,5.7],[8.9,4.8],[9.4,4.2],[9.9,3.6],[10.5,8.5],[11,7.9],[11.5,8.2],[12,7.3],[12.5,6.7],[13,7],[13.5,6.1],[14,5.5],[14.5,4.9],[15.1,9.5],[15.6,8.9],[16.1,9.2],[16.6,8.3],[17.1,7.7],[17.6,8],[18.1,7.1],[18.6,6.5],[19.1,6.8],[19.6,5.9],[20.1,5.3],[20.6,4.7],[21.1,9.4],[21.6,8.8],[22.1,9.1],[22.6,8.2],[23.1,7.6],[23.75,7]];
const a33: P = [[0,0],[0.5,-0.6],[1,-1.3],[1.5,-1],[2,-2.1],[2.5,-2.7],[3,-3.3],[3.4,1.5],[3.9,0.9],[4.4,1.2],[4.9,0.3],[5.4,4],[5.9,3.4],[6.4,3.7],[6.9,2.8],[7.4,2.2],[7.9,2.5],[8.4,1.6],[8.9,1],[9.4,4.6],[9.9,4],[10.4,4.3],[10.9,3.4],[11.4,2.8],[11.9,2.2],[12.4,2.5],[12.9,1.6],[13.4,1],[13.9,0.4],[14.4,0.7],[14.9,-0.2],[15.4,3.5],[15.9,2.9],[16.4,3.2],[16.9,2.3],[17.4,1.7],[17.9,1.1],[18.4,1.4],[18.9,0.5],[19.4,-0.1],[19.9,-0.7],[20.4,-0.4],[20.9,-1.3],[21.4,-1.9],[21.9,-1.6],[22.4,-2.5],[22.9,-3.1],[23.4,-3.7],[23.75,-4.1]];
const a34: P = [[0,0],[0.5,-0.7],[1,-1.5],[1.5,-1.1],[2,-2.3],[2.5,-2.9],[3,-3.5],[3.5,-3.2],[4,-4.1],[4.4,-1],[4.9,-1.6],[5.4,-1.3],[5.9,-2.2],[6.4,-2.8],[6.9,-3.4],[7.4,-3.1],[7.9,-4],[8.4,-4.6],[8.9,-4.3],[9.4,-5.2],[9.9,-5.8],[10.4,-6.4],[10.9,-6.1],[11.3,-3],[11.8,-3.6],[12.3,-3.3],[12.8,-4.2],[13.3,-4.8],[13.8,-5.4],[14.3,-5.1],[14.8,-6],[15.3,-6.6],[15.8,-6.3],[16.3,-7.2],[16.8,-7.8],[17.3,-8.4],[17.8,-8.1],[18.3,-5],[18.8,-5.6],[19.3,-5.3],[19.8,-6.2],[20.3,-6.8],[20.6,-4],[21.1,-4.5],[21.6,-5.1],[22.1,-5.4],[22.5,-3],[23,-2.6],[23.4,-3.3],[23.75,-3]];
const a35: P = [[0,0],[0.5,-0.8],[1,-1.5],[1.5,-1.2],[2,-2.4],[2.3,2.5],[2.8,1.9],[3.3,2.2],[3.8,1.3],[4.3,0.7],[4.8,1],[5.1,0.1],[5.4,5.5],[5.9,4.9],[6.4,5.2],[6.9,4.3],[7.4,3.7],[7.9,3.1],[8.3,8.5],[8.8,7.9],[9.3,8.2],[9.8,7.3],[10.3,6.7],[10.8,7],[11.3,6.1],[11.8,5.5],[12.3,10.5],[12.8,9.9],[13.3,10.2],[13.8,9.3],[14.3,8.7],[14.8,9],[15.1,8.2],[15.3,14],[15.75,13.3],[16.2,13.5],[16.58,12.6],[17.1,12.8],[17.55,12],[18,11.4],[18.5,11.7],[19,10.8],[19.5,10.2],[20,9.6],[20.5,9.9],[21,9],[21.5,8.4],[22,7.9],[22.25,10.7],[22.7,10.2],[23.1,9.9],[23.5,11],[23.75,12.8]];
const a36: P = [[0,6.8],[0.5,4.5],[1,4],[1.5,3.5],[2,3],[2.5,2.5],[3,2],[3.5,1.5],[3.96,9.7],[4.5,11],[5.2,14.2],[5.76,12.6],[6.2,12],[6.5,11.5],[7,10.5],[7.5,10.8],[8,9.5],[8.5,8.9],[9,8],[9.5,8.3],[10,7],[10.5,6.5],[11,6],[11.5,6.3],[12,5],[12.5,4.5],[13,6.5],[13.5,6],[14,5.5],[14.5,5.8],[15,4.5],[15.5,4],[16,3.5],[16.5,3.8],[17,2.5],[17.5,2],[18,1.5],[18.5,1.8],[19,0.5],[19.5,0],[20,-0.5],[20.5,-0.2],[21,-1.5],[21.5,-2],[22,-2.5],[22.5,-2.2],[23,-3.5],[23.75,-4]];

const RED = "#ff0000", GREEN = "#00b000", BLUE = "#0000cc", MAGENTA = "#ff40ff", CYAN = "#40ffff",
  DARKRED = "#a00000", YELLOW = "#ffff00", BLACK = "#000000", LIGHTBLUE = "#5a5aff";

const seriesDefs: [P, string][] = [
  [a36, YELLOW], [a1, RED], [a2, GREEN], [a3, BLUE], [a4, MAGENTA], [a5, CYAN], [a6, CYAN], [a7, DARKRED],
  [a8, RED], [a9, LIGHTBLUE], [a10, BLUE], [a11, BLUE], [a12, DARKRED], [a13, BLACK], [a14, GREEN], [a15, CYAN],
  [a16, MAGENTA], [a17, MAGENTA], [a18, CYAN], [a19, YELLOW], [a20, YELLOW], [a21, LIGHTBLUE], [a22, BLUE],
  [a23, BLUE], [a24, BLUE], [a25, RED], [a26, RED], [a27, DARKRED], [a28, GREEN], [a29, CYAN], [a30, YELLOW],
  [a31, LIGHTBLUE], [a32, LIGHTBLUE], [a33, MAGENTA], [a34, BLACK], [a35, RED],
  [s9, CYAN], [s8, MAGENTA], [s7, YELLOW], [s5, YELLOW], [s4, LIGHTBLUE], [s6, RED], [s3, BLUE], [s2, MAGENTA],
  [s12, GREEN], [s11, BLUE], [s1, DARKRED],
];

const FONT = "DejaVu Sans Mono";

export default function App() {
  const ref = useRef<HTMLDivElement>(null);
  useEffect(() => {
    document.body.style.margin = "0";
    if (!ref.current) return;
    const chart = echarts.init(ref.current, undefined, { renderer: "svg" });
    const fmtX = (v: number) => (hourTicks.includes(v) ? String(v) : "");
    const fmtY = (v: number) => (valueTicks.includes(v) ? String(v) : "");
    const axisCommon = {
      axisLine: { show: true, onZero: false, lineStyle: { color: "#000", width: 1 } },
      axisTick: { show: true, inside: true, length: 6, lineStyle: { color: "#000", width: 1 } },
      splitLine: { show: false },
    };
    chart.setOption({
      animation: false,
      backgroundColor: "#ffffff",
      grid: { left: 52, right: 19, top: 32, bottom: 35 },
      xAxis: [
        {
          type: "value", min: 0, max: 23.75, interval: 1, position: "bottom", ...axisCommon,
          axisLabel: { formatter: fmtX, color: "#000", fontFamily: FONT, fontSize: 10, margin: 9, showMaxLabel: false },
        },
        {
          type: "value", min: 0, max: 23.75, interval: 1, position: "top", ...axisCommon,
          axisLabel: { show: false },
        },
      ],
      yAxis: [
        {
          type: "value", min: -30, max: 50, interval: 10, position: "left", ...axisCommon,
          axisLabel: { formatter: fmtY, color: "#000", fontFamily: FONT, fontSize: 10, margin: 7 },
        },
        {
          type: "value", min: -30, max: 50, interval: 10, position: "right", ...axisCommon,
          axisLabel: { show: false },
        },
      ],
      graphic: [
        { type: "text", x: 321, y: 16, style: { text: "Cumulative Z-Squared Value", font: `10px "${FONT}"`, fill: "#000", textAlign: "center", textVerticalAlign: "middle" } },
        { type: "text", x: 336, y: 472, style: { text: "Hour of Day", font: `10px "${FONT}"`, fill: "#000", textAlign: "center", textVerticalAlign: "middle" } },
        { type: "text", x: 11, y: 244, rotation: Math.PI / 2, style: { text: "Cumulative (Z*Z)-1", font: `10px "${FONT}"`, fill: "#000", textAlign: "center", textVerticalAlign: "middle" } },
      ],
      series: seriesDefs.map(([data, color], i) => ({
        type: "line",
        name: "s" + i,
        xAxisIndex: 0,
        yAxisIndex: 0,
        data,
        symbol: "none",
        showSymbol: false,
        silent: true,
        clip: true,
        emphasis: { disabled: true },
        lineStyle: { width: data === s11 ? 1.6 : 1, color },
        itemStyle: { color },
      })),
    });
    return () => chart.dispose();
  }, []);
  return <div ref={ref} style={{ width: 640, height: 480 }} />;
}
